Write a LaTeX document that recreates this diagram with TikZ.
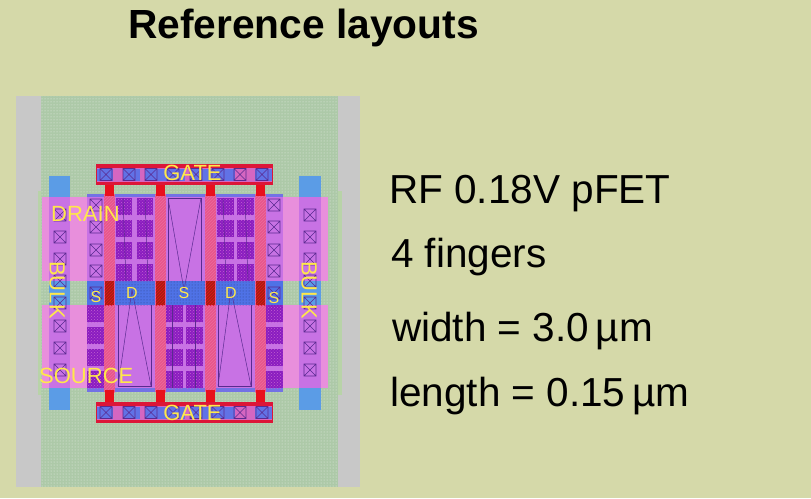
\documentclass[tikz,border=0pt]{standalone}
\usepackage{fontspec}
\setmainfont{Liberation Sans}
\usetikzlibrary{patterns}
\definecolor{slidebg}{HTML}{D5D9A9}
\definecolor{guard}{HTML}{C8C8C8}
\definecolor{nwell}{HTML}{ADC9A8}
\definecolor{nwellrim}{HTML}{B8D3A8}
\definecolor{bulkblue}{HTML}{5B9CE6}
\definecolor{metalpink}{HTML}{E88FDC}
\definecolor{active}{HTML}{C872E4}
\definecolor{diffblue}{HTML}{4F72E6}
\definecolor{polypink}{HTML}{E8548C}
\definecolor{polyred}{HTML}{E8101C}
\definecolor{polydark}{HTML}{A82010}
\definecolor{barred}{HTML}{DC1638}
\definecolor{dense}{HTML}{8A1CC0}
\definecolor{cutline}{HTML}{5A2A90}
\definecolor{labelyellow}{HTML}{FFE84A}
\tikzset{%
  cutbox/.style={draw=cutline, line width=0.6pt},
  thinline/.style={draw=cutline, line width=0.5pt},
  layname/.style={text=labelyellow, inner sep=0pt, font=\fontsize{22}{22}\selectfont},
  smallname/.style={text=labelyellow, inner sep=0pt, font=\fontsize{16}{16}\selectfont},
  bigtext/.style={anchor=base west, inner sep=0pt, font=\fontsize{40.5}{40.5}\selectfont}
}
% contact cut: centre x, centre y
\newcommand{\cut}[2]{%
  \draw[cutbox] (#1-6,#2-6) rectangle (#1+6,#2+6) (#1-6,#2-6) -- (#1+6,#2+6) (#1-6,#2+6) -- (#1+6,#2-6);}
% dense contact square: left x, top y
\newcommand{\densecut}[2]{%
  \fill[dense] (#1,#2) rectangle ++(16.5,17);
  \fill[pattern=crosshatch dots, pattern color=metalpink!60!dense] (#1,#2) rectangle ++(16.5,17);}
\begin{document}
\begin{tikzpicture}[x=1pt,y=-1pt]
  \useasboundingbox (0,0) rectangle (811,498);
  \fill[slidebg] (0,0) rectangle (811,498);
  % well and guard
  \fill[guard] (16,96) rectangle (360,487);
  \fill[nwellrim] (38,191) rectangle (342,395);
  \fill[nwell] (41,96) rectangle (338,487);
  \fill[pattern=dots, pattern color=white!70!nwell] (41,96) rectangle (338,487);
  % bulk strips
  \fill[bulkblue] (49,176) rectangle (70,410);
  \fill[bulkblue] (299,176) rectangle (321,410);
  % drain and source metal
  \fill[metalpink] (42,197) rectangle (328,281);
  \fill[metalpink] (42,305) rectangle (328,388);
  \foreach \xa/\xb in {49/70,299/321} {
    \fill[active] (\xa,197) rectangle (\xb,281);
    \fill[active] (\xa,305) rectangle (\xb,388);
  }
  % active area
  \fill[diffblue!70!active] (87,194) rectangle (283,392);
  \fill[active] (87,197) rectangle (283,281);
  \fill[active] (87,305) rectangle (283,388);
  \fill[diffblue] (87,281) rectangle (283,305);
  \fill[pattern=dots, pattern color=diffblue!60!black] (115,281) rectangle (255,305);
  % fingers
  \foreach \xa in {104,155,205,255} {
    \fill[polypink] (\xa,194) rectangle (\xa+11,392);
    \fill[pattern=north east lines, pattern color=polypink!85!white] (\xa,194) rectangle (\xa+11,392);
    \fill[polydark] (\xa+1,281) rectangle (\xa+10,305);
    \fill[pattern=north east lines, pattern color=polyred] (\xa+1,281) rectangle (\xa+10,305);
    \fill[polyred] (\xa+1,184) rectangle (\xa+10,196);
    \fill[polyred] (\xa+1,390) rectangle (\xa+10,403);
  }
  % gate bars
  \foreach \ya in {164,402} {
    \fill[barred] (96,\ya) rectangle (273,\ya+21);
    \fill[active!60!polypink] (97,\ya+4) rectangle (272,\ya+18);
    \foreach \xa/\xb in {97/113,123/140,145/185,190/235,255/272} {
      \fill[diffblue!85!active] (\xa,\ya+5) rectangle (\xb,\ya+17);
    }
    \foreach \xa in {106,129,151,173,196,218,240,262} {
      \cut{\xa}{\ya+10.5}
    }
  }
  % bulk cuts
  \foreach \ya in {215,237,259,281,303,326,348,370} {
    \cut{60}{\ya}
    \cut{310}{\ya}
  }
  % source strips
  \foreach \ya in {205,227,250,271,293} {
    \cut{96}{\ya}
    \cut{274}{\ya}
  }
  \foreach \ya in {305,327,349,371} {
    \densecut{87}{\ya}
    \densecut{266}{\ya}
  }
  % drain and source squares between the fingers
  \foreach \ya in {198,220,242,264} {
    \densecut{115.5}{\ya}
    \densecut{136.5}{\ya}
    \densecut{217}{\ya}
    \densecut{237}{\ya}
  }
  \foreach \ya in {305,327,349,371} {
    \densecut{166}{\ya}
    \densecut{186}{\ya}
  }
  % plain windows with their lines
  \foreach \xa/\xm in {118/132,218/231} {
    \draw[thinline] (\xa,305) -- (\xa,386) -- (\xa+33,386) -- (\xa+33,305);
    \draw[thinline] (\xa,386) -- (\xm,290) -- (\xa+33,386);
  }
  \draw[thinline] (168,281) -- (168,198) -- (201,198) -- (201,281);
  \draw[thinline] (168,198) -- (184,290) -- (201,198);
  \foreach \xa in {123,145,223,245} {
    \draw[thinline] (\xa,198) -- (\xa+3,281);
  }
  \foreach \xa in {172,195} {
    \draw[thinline] (\xa,305) -- (\xa,388);
  }
  % labels
  \node[layname, anchor=west] (drainname) at (51,214) {DRAIN};
  \node[layname, anchor=west] (sourcename) at (39,376) {SOURCE};
  \node[layname] (gatetop) at (192.5,173) {GATE};
  \node[layname] (gatebot) at (192.5,413) {GATE};
  \node[layname, rotate=-90] (bulkleft) at (57,290) {BULK};
  \node[layname, rotate=-90] (bulkright) at (309,290) {BULK};
  \node[smallname] (sleft) at (96,297) {S};
  \node[smallname] (done) at (132,293) {D};
  \node[smallname] (smid) at (184,293) {S};
  \node[smallname] (dtwo) at (231,293) {D};
  \node[smallname] (sright) at (274,298) {S};
  % slide text
  \node[anchor=base west, inner sep=0pt, font=\fontsize{40.7}{40.7}\selectfont\bfseries] (title) at (128,38) {Reference layouts};
  \node[bigtext] (device) at (389,203) {RF 0.18V pFET};
  \node[bigtext] (fingers) at (391,267) {4 fingers};
  \node[bigtext] (width) at (392,341) {width = 3.0\,µm};
  \node[bigtext] (length) at (390,406) {length = 0.15\,µm};
\end{tikzpicture}
\end{document}
